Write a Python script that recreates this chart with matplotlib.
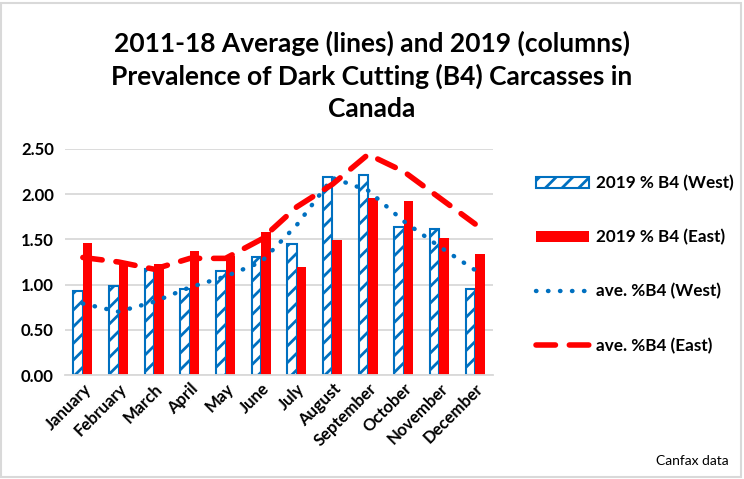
import numpy as np
import matplotlib.pyplot as plt
from matplotlib.patches import Rectangle

months = ['January', 'February', 'March', 'April', 'May', 'June', 'July',
          'August', 'September', 'October', 'November', 'December']
west_2019 = [0.93, 0.98, 1.17, 0.95, 1.15, 1.30, 1.45, 2.19, 2.21, 1.64, 1.62, 0.95]
east_2019 = [1.46, 1.26, 1.23, 1.37, 1.32, 1.58, 1.20, 1.49, 1.96, 1.92, 1.52, 1.34]
west_avg = [0.79, 0.70, 0.81, 0.97, 1.09, 1.25, 1.66, 2.18, 2.04, 1.70, 1.42, 1.16]
east_avg = [1.30, 1.25, 1.17, 1.29, 1.29, 1.50, 1.86, 2.11, 2.44, 2.25, 1.96, 1.67]

blue = '#0070C0'
red = '#FF0000'
plt.rcParams['font.family'] = ['Lato', 'DejaVu Sans']
plt.rcParams['hatch.linewidth'] = 2.0
plt.rcParams['hatch.color'] = blue

fig = plt.figure(figsize=(7.44, 4.79), dpi=100)
ax = fig.add_axes([0.0874, 0.2171, 0.5752, 0.4719])

x = np.arange(len(months))
w = 0.27
b1 = ax.bar(x - w / 2, west_2019, w, facecolor='white', edgecolor=blue, hatch='//',
            linewidth=1.5, label='2019 % B4 (West)', zorder=2)
b2 = ax.bar(x + w / 2, east_2019, w, color=red, label='2019 % B4 (East)', zorder=2)
l1, = ax.plot(x, west_avg, color=blue, lw=3.2, linestyle=(0, (0.1, 2.6)),
              dash_capstyle='round', label='ave. %B4 (West)', zorder=3)
l2, = ax.plot(x, east_avg, color=red, lw=4, linestyle=(0, (3.5, 2.5)),
              dash_capstyle='round', label='ave. %B4 (East)', zorder=3)

ax.set_xlim(-0.5, 11.5)
ax.set_ylim(0, 2.5)
ax.set_yticks(np.arange(0, 2.51, 0.5))
ax.yaxis.set_major_formatter(plt.FormatStrFormatter('%.2f'))
ax.set_xticks(x)
ax.set_xticklabels(months, rotation=45, ha='right', rotation_mode='anchor',
                   fontsize=12, fontweight='bold')
for lab in ax.get_yticklabels():
    lab.set_fontsize(12)
    lab.set_fontweight('bold')
ax.tick_params(length=0, pad=8)
ax.tick_params(axis='x', pad=4)
ax.grid(axis='y', color='#D9D9D9', lw=1.3, zorder=0)
for s in ['top', 'right', 'left']:
    ax.spines[s].set_visible(False)
ax.spines['bottom'].set_color('#D9D9D9')
ax.spines['bottom'].set_linewidth(1.3)

fig.text(0.5, 0.937, '2011-18 Average (lines) and 2019 (columns)\n'
         'Prevalence of Dark Cutting (B4) Carcasses in\nCanada',
         ha='center', va='top', fontsize=19, fontweight='bold', linespacing=1.4)

fig.legend([b1, b2, l1, l2], [h.get_label() for h in [b1, b2, l1, l2]],
           loc='upper left', bbox_to_anchor=(0.7, 0.667), frameon=False,
           prop={'size': 12.3, 'weight': 'bold'}, labelspacing=2.22,
           handlelength=3.1, handletextpad=0.4, handleheight=0.6)

fig.text(0.98, 0.025, 'Canfax data', ha='right', va='bottom', fontsize=10)
fig.patches.append(Rectangle((0.002, 0.004), 0.994, 0.99, transform=fig.transFigure,
                             fill=False, edgecolor='#D9D9D9', lw=1.5))

fig.savefig('out.png', dpi=100)
